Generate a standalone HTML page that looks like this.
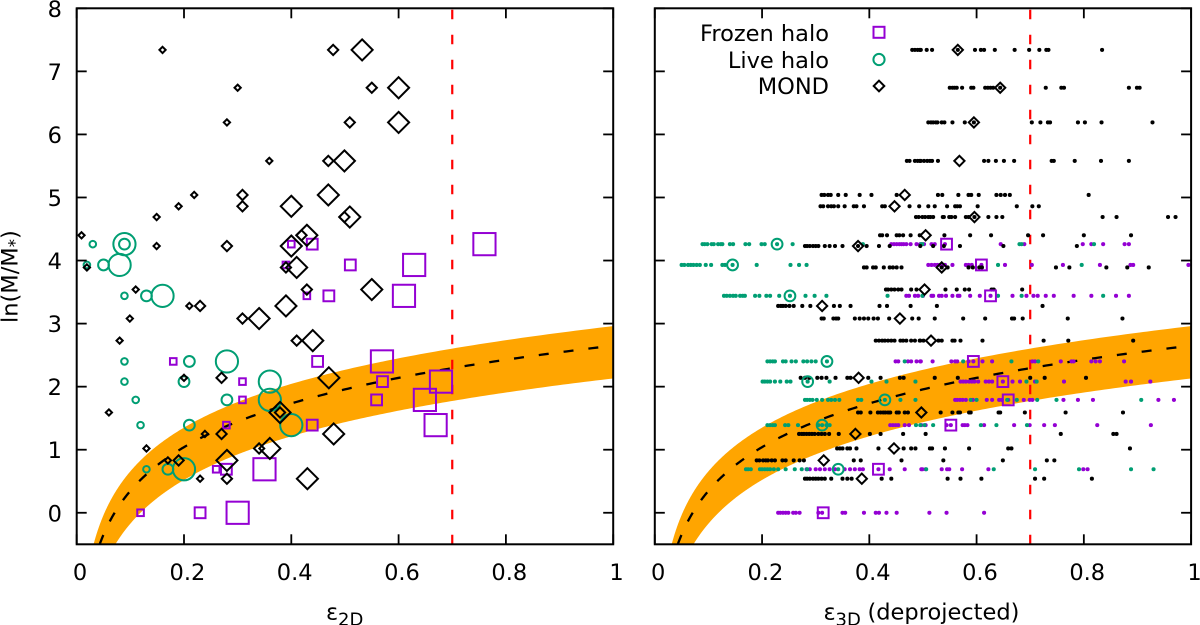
<!DOCTYPE html>
<html lang="en">
<head>
<meta charset="utf-8">
<title>Flattening vs mass ratio</title>
<style>
  html, body { margin: 0; padding: 0; background: #fff; }
  body { width: 1200px; height: 625px; overflow: hidden; }
  svg { display: block; font-family: "DejaVu Sans", "Liberation Sans", sans-serif; }
  text { fill: #000; }
</style>
</head>
<body>
<svg id="chart" width="1200" height="625" viewBox="0 0 1200 625" xmlns="http://www.w3.org/2000/svg">
  <defs>
    <clipPath id="clip-left"><rect x="76.7" y="8.3" width="536.5" height="536"/></clipPath>
    <clipPath id="clip-right"><rect x="654.8" y="8.3" width="536.3" height="536"/></clipPath>
  </defs>
  <g id="left-panel"></g>
  <g id="right-panel"></g>
  <g id="y-labels"></g>
  <g id="x-labels"></g>

  <text transform="translate(17.5,323) rotate(-90)" font-size="22.5">ln(M/M<tspan font-size="16.5" dy="3">*</tspan><tspan dy="-3">)</tspan></text>
  <text x="326" y="619.5" font-size="22.5">ε<tspan font-size="18" dy="6" x="338">2D</tspan></text>
  <text x="823.5" y="619.5" font-size="22.5">ε<tspan font-size="18" dy="6" x="835.5">3D</tspan><tspan dy="-6" x="867.5">(deprojected)</tspan></text>

  <g>
    <text x="829" y="41" text-anchor="end" font-size="22.5">Frozen halo</text>
    <text x="829" y="68" text-anchor="end" font-size="22.5">Live halo</text>
    <text x="829" y="94" text-anchor="end" font-size="22.5">MOND</text>
    <rect x="873.5" y="26.8" width="11" height="11" fill="none" stroke="#9400d3" stroke-width="2"/>
    <circle cx="879" cy="59.5" r="5.6" fill="none" stroke="#009e73" stroke-width="2"/>
    <path d="M879 80.7 L884.3 86 L879 91.3 L873.7 86 Z" fill="none" stroke="#000" stroke-width="2"/>
  </g>
</svg>

<script>
// Axis tick labels
const xTicks = [0, 0.2, 0.4, 0.6, 0.8, 1];
const yTicks = [0, 1, 2, 3, 4, 5, 6, 7, 8];
const xTickLabels = ["0", "0.2", "0.4", "0.6", "0.8", "1"];
const yTickLabels = ["0", "1", "2", "3", "4", "5", "6", "7", "8"];

// Fit curve: y = ln(eps) + offset
const fitOffset = 2.65;
const bandUpperOffset = 2.96;
const bandLowerOffset = 2.13;
const criticalEps = 0.7;

// 2D panel: [ln(M/M*), eps small-R, eps mid-R, eps large-R]
const frozen2D = [
  [4.26, .40, .439, .76], [3.93, .39, .51, .629], [3.44, .429, .47, .61],
  [2.40, .18, .449, .569], [2.08, .309, .57, .679], [1.79, .309, .559, .649],
  [1.39, .279, .439, .669], [0.69, .26, .279, .35], [0, .119, .23, .30]
];
const live2D = [
  [4.26, .03, .089, .089], [3.93, .019, .05, .08], [3.44, .089, .13, .16],
  [2.40, .089, .21, .28], [2.08, .089, .20, .36], [1.79, .11, .28, .36],
  [1.39, .119, .21, .40], [0.69, .13, .17, .20]
];
const mond2D = [
  [7.34, .16, .478, .532], [6.74, .30, .55, .60], [6.19, .28, .509, .60],
  [5.58, .359, .469, .499], [5.04, .219, .309, .469], [4.86, .19, .309, .40],
  [4.69, .149, .499, .509], [4.40, .009, .419, .429], [4.23, .149, .28, .40],
  [3.89, .019, .39, .41], [3.54, .11, .429, .55], [3.28, .21, .23, .39],
  [3.08, .099, .309, .34], [2.73, .08, .41, .44], [2.14, .20, .27, .47],
  [1.59, .06, .379, .379], [1.25, .239, .27, .479], [1.02, .13, .34, .36],
  [0.83, .17, .19, .28], [0.54, .23, .28, .43]
];

// 3D panel mean markers: ln(M/M*) levels and mean eps
const frozenLevels = [4.26, 3.93, 3.44, 2.40, 2.08, 1.79, 1.39, 0.69, 0];
const frozenMeans = [.544, .609, .626, .594, .649, .659, .552, .417, .314];
const liveLevels = [4.26, 3.93, 3.44, 2.40, 2.08, 1.79, 1.39, 0.69];
const liveMeans = [.228, .145, .252, .321, .285, .429, .312, .342];
const mondLevels = [7.34, 6.74, 6.19, 5.58, 5.04, 4.86, 4.69, 4.40, 4.23, 3.89, 3.54, 3.28, 3.08, 2.73, 2.14, 1.59, 1.25, 1.02, 0.83, 0.54];
const mondMeans = [.565, .644, .595, .568, .466, .447, .596, .505, .379, .535, .503, .312, .457, .515, .380, .497, .374, .446, .315, .386];

// 3D panel samples, one row per level, same order as the level arrays
const frozenSamples = [
  [.441,.446,.451,.456,.460,.464,.469,.477,.488,.495,.502,.516,.522,.541,.645,.689,.798,.814,.836,.876,.884],
  [.510,.516,.522,.527,.532,.537,.541,.555,.580,.585,.591,.609,.653,.703,.761,.830,.887,.892,.995],
  [.469,.474,.485,.491,.500,.516,.519,.530,.535,.543,.555,.565,.568,.588,.606,.626,.667,.693,.706,.714,.729,.744,.781,.814,.860,.884],
  [.449,.454,.472,.478,.488,.495,.496,.518,.553,.560,.564,.585,.594,.611,.629,.704,.709,.757,.777,.781,.814,.822,.830,.875],
  [.570,.575,.580,.586,.591,.596,.603,.617,.623,.629,.649,.667,.681,.709,.763,.878,.888,.924],
  [.560,.564,.569,.574,.580,.593,.619,.629,.642,.647,.659,.688,.699,.704,.762,.789,.817,.939,.968],
  [.439,.444,.449,.454,.466,.474,.497,.505,.544,.552,.574,.578,.583,.614,.670,.699,.726,.746,.825,.925],
  [.283,.289,.300,.308,.317,.326,.336,.354,.364,.373,.382,.388,.417,.438,.466,.497,.505,.499,.535,.545,.549,.573,.622,.799,.807],
  [.230,.234,.239,.244,.249,.258,.263,.270,.305,.312,.350,.355,.390,.412,.418,.432,.451,.512,.544,.614]
];
const liveSamples = [
  [.089,.093,.098,.106,.110,.118,.123,.126,.140,.146,.169,.176,.199,.205,.228,.257,.388,.497,.499,.680,.684,.819],
  [.050,.055,.062,.067,.072,.078,.084,.095,.105,.126,.131,.145,.190,.253,.269,.283,.640,.796],
  [.129,.134,.140,.146,.151,.159,.164,.168,.187,.195,.208,.215,.232,.252,.281,.298,.320,.434,.499,.640,.684,.836],
  [.210,.215,.220,.224,.239,.244,.255,.263,.277,.284,.292,.300,.321,.466,.575,.665,.715],
  [.201,.205,.210,.215,.224,.234,.246,.253,.285,.326,.404,.432,.486,.693,.712],
  [.280,.284,.289,.294,.302,.312,.323,.329,.336,.344,.379,.385,.429,.458,.486,.589,.600,.657,.675,.713,.749,.907],
  [.210,.215,.220,.224,.243,.249,.267,.305,.312,.320,.326,.487,.495,.503,.519,.608,.637,.694],
  [.170,.174,.179,.196,.200,.205,.210,.215,.222,.230,.244,.261,.274,.284,.342,.506,.632,.709,.791,.888,.930]
];
const mondSamples = [
  [.480,.485,.490,.494,.496,.507,.517,.565,.597,.608,.614,.634,.671,.698,.717,.730,.734,.834],
  [.550,.555,.559,.563,.573,.590,.594,.616,.621,.626,.631,.644,.729,.758,.763,.884,.899,.904],
  [.510,.515,.519,.524,.527,.535,.540,.555,.578,.595,.703,.719,.733,.737,.789,.802,.833,.928],
  [.470,.475,.485,.490,.494,.496,.502,.508,.513,.517,.528,.614,.622,.636,.651,.670,.740,.744,.783,.832,.884],
  [.311,.316,.323,.328,.342,.356,.382,.404,.451,.528,.536,.566,.585,.590,.604,.637,.645,.653,.662,.809],
  [.309,.314,.323,.329,.334,.342,.354,.371,.376,.390,.424,.429,.475,.493,.510,.522,.545,.560,.564,.569,.602,.675,.704,.716],
  [.487,.492,.499,.504,.510,.514,.519,.537,.539,.549,.553,.560,.580,.585,.596,.622,.637,.648,.835,.861,.957,.971],
  [.420,.424,.433,.451,.456,.463,.477,.494,.540,.588,.627,.696,.724,.800,.888],
  [.280,.284,.289,.295,.300,.305,.317,.326,.336,.350,.379,.395,.418,.438,.495,.519,.539,.569,.650,.787],
  [.390,.395,.407,.412,.427,.438,.444,.451,.460,.535,.546,.585,.593,.605,.610,.748,.773,.842,.881,.921],
  [.431,.435,.441,.447,.454,.460,.478,.488,.542,.563,.578,.586,.628,.632,.685],
  [.230,.235,.239,.244,.251,.259,.275,.290,.334,.345,.365,.419,.433,.477,.526,.723],
  [.311,.315,.333,.338,.342,.373,.382,.390,.398,.408,.416,.437,.480,.492,.522,.575,.616,.666,.670,.686,.770,.872],
  [.412,.418,.424,.429,.435,.441,.447,.458,.463,.469,.478,.485,.494,.495,.501,.529,.535,.555,.559,.570,.611,.725,.771,.892],
  [.272,.280,.288,.303,.311,.320,.337,.359,.365,.398,.421,.457,.464,.522,.565,.700,.727,.804],
  [.379,.384,.402,.416,.421,.426,.430,.435,.439,.451,.455,.466,.472,.533,.555,.566,.569,.586,.589,.641,.644,.690,.766,.873],
  [.269,.274,.278,.283,.288,.293,.298,.305,.311,.317,.325,.343,.401,.421,.463,.505,.757,.855,.861],
  [.340,.345,.350,.359,.364,.376,.417,.464,.478,.486,.513,.517,.541,.586,.659,.665,.886],
  [.190,.195,.202,.207,.211,.218,.224,.238,.244,.259,.270,.278,.371,.384,.460,.538,.649,.731,.745],
  [.280,.284,.289,.295,.300,.305,.311,.317,.329,.350,.359,.367,.423,.441,.546,.570,.609,.709,.726,.815]
];

const NS = "http://www.w3.org/2000/svg";
const COLOR_FROZEN = "#9400d3";
const COLOR_LIVE = "#009e73";
const COLOR_MOND = "#000000";
const plotTop = 8.3;
const plotBottom = 544.3;
const yMin = -0.5;
const yMax = 8;
const markerHalf = [3.3, 5.4, 11.1];
const meanHalf = 5.4;
const markerStroke = 2;

function scaleY(v) {
  return plotBottom - (v - yMin) / (yMax - yMin) * (plotBottom - plotTop);
}
function makeScaleX(x0, width) {
  return function (eps) { return x0 + eps * width; };
}
function svgEl(parent, tag) {
  const el = document.createElementNS(NS, tag);
  parent.appendChild(el);
  return el;
}
function setAll(el, attrs) {
  for (const k in attrs) el.setAttribute(k, attrs[k]);
}
function drawSquare(parent, cx, cy, h, name) {
  const el = svgEl(parent, "rect");
  
  
  setAll(el, { x: cx - h, y: cy - h, width: 2 * h, height: 2 * h, fill: "none", stroke: COLOR_FROZEN, "stroke-width": markerStroke });
}
function drawCircle(parent, cx, cy, h, name) {
  const el = svgEl(parent, "circle");
  
  
  setAll(el, { cx: cx, cy: cy, r: h, fill: "none", stroke: COLOR_LIVE, "stroke-width": markerStroke });
}
function drawDiamond(parent, cx, cy, half, name) {
  const h = half * 0.95;
  const el = svgEl(parent, "path");
  
  
  setAll(el, {
    d: "M" + cx + " " + (cy - h) + " L" + (cx + h) + " " + cy + " L" + cx + " " + (cy + h) + " L" + (cx - h) + " " + cy + " Z",
    fill: "none", stroke: COLOR_MOND, "stroke-width": markerStroke
  });
}
function logCurvePoints(offset, sx) {
  const start = Math.exp(yMin - offset);
  const steps = 240;
  const pts = [];
  for (let i = 0; i <= steps; i++) {
    const eps = start * Math.pow(1 / start, i / steps);
    pts.push([sx(eps), scaleY(Math.log(eps) + offset)]);
  }
  return pts;
}
function toPath(pts) {
  return pts.map(function (p, i) { return (i ? "L" : "M") + p[0].toFixed(2) + " " + p[1].toFixed(2); }).join(" ");
}
function drawBackground(g, sx, clipId) {
  const clipped = svgEl(g, "g");
  
  
  clipped.setAttribute("clip-path", "url(#" + clipId + ")");

  const upper = logCurvePoints(bandUpperOffset, sx);
  const lower = logCurvePoints(bandLowerOffset, sx).reverse();
  const band = svgEl(clipped, "path");
  
  
  setAll(band, { d: toPath(upper.concat(lower)) + " Z", fill: "#ffa500", stroke: "none" });

  const fit = svgEl(clipped, "path");
  
  
  setAll(fit, { d: toPath(logCurvePoints(fitOffset, sx)), fill: "none", stroke: "#000", "stroke-width": 2.3, "stroke-dasharray": "10 15" });

  const crit = svgEl(clipped, "line");
  
  
  setAll(crit, { x1: sx(criticalEps), x2: sx(criticalEps), y1: plotBottom, y2: plotTop, stroke: "#ff0000", "stroke-width": 2.2, "stroke-dasharray": "9.5 15.5" });
  return clipped;
}
function drawFrame(g, sx, x0, width) {
  const ticks = svgEl(g, "g");
  
  
  setAll(ticks, { stroke: "#000", "stroke-width": 1.8 });
  xTicks.forEach(function (t) {
    const x = sx(t);
    const a = svgEl(ticks, "line");
    
    
    setAll(a, { x1: x, x2: x, y1: plotBottom, y2: plotBottom - 10 });
    const b = svgEl(ticks, "line");
    
    
    setAll(b, { x1: x, x2: x, y1: plotTop, y2: plotTop + 10 });
  });
  yTicks.forEach(function (t) {
    const y = scaleY(t);
    const a = svgEl(ticks, "line");
    
    
    setAll(a, { x1: x0, x2: x0 + 10, y1: y, y2: y });
    const b = svgEl(ticks, "line");
    
    
    setAll(b, { x1: x0 + width, x2: x0 + width - 10, y1: y, y2: y });
  });
  const frame = svgEl(g, "rect");
  
  
  setAll(frame, { x: x0, y: plotTop, width: width, height: plotBottom - plotTop, fill: "none", stroke: "#000", "stroke-width": 2 });
}

const leftX = makeScaleX(76.7, 536.5);
const rightX = makeScaleX(654.8, 536.3);

// ----- Left panel -----
const leftG = document.getElementById("left-panel");
drawBackground(leftG, leftX, "clip-left");
const leftMarks = svgEl(leftG, "g");


frozen2D.forEach(function (row) {
  for (let i = 0; i < 3; i++) drawSquare(leftMarks, leftX(row[i + 1]), scaleY(row[0]), markerHalf[i], "frozen-halo-point");
});
live2D.forEach(function (row) {
  for (let i = 0; i < 3; i++) drawCircle(leftMarks, leftX(row[i + 1]), scaleY(row[0]), markerHalf[i], "live-halo-point");
});
mond2D.forEach(function (row) {
  for (let i = 0; i < 3; i++) drawDiamond(leftMarks, leftX(row[i + 1]), scaleY(row[0]), markerHalf[i], "mond-point");
});
drawFrame(leftG, leftX, 76.7, 536.5);

// ----- Right panel -----
const rightG = document.getElementById("right-panel");
const rightClip = drawBackground(rightG, rightX, "clip-right");
function drawDots(levels, samples, color, name) {
  levels.forEach(function (level, i) {
    samples[i].forEach(function (eps) {
      const d = svgEl(rightClip, "circle");
      
      
      setAll(d, { cx: rightX(eps), cy: scaleY(level), r: 2.05, fill: color });
    });
  });
}
drawDots(frozenLevels, frozenSamples, COLOR_FROZEN, "frozen-halo-sample");
drawDots(liveLevels, liveSamples, COLOR_LIVE, "live-halo-sample");
drawDots(mondLevels, mondSamples, COLOR_MOND, "mond-sample");
frozenLevels.forEach(function (level, i) {
  drawSquare(rightG, rightX(frozenMeans[i]), scaleY(level), meanHalf, "frozen-halo-mean");
});
liveLevels.forEach(function (level, i) {
  drawCircle(rightG, rightX(liveMeans[i]), scaleY(level), meanHalf, "live-halo-mean");
});
mondLevels.forEach(function (level, i) {
  drawDiamond(rightG, rightX(mondMeans[i]), scaleY(level), meanHalf, "mond-mean");
});
drawFrame(rightG, rightX, 654.8, 536.3);

// ----- Tick labels -----
const yLabelG = document.getElementById("y-labels");
yTicks.forEach(function (t, i) {
  const el = svgEl(yLabelG, "text");
  
  
  setAll(el, { x: 62, y: scaleY(t) + 8.5, "text-anchor": "end", "font-size": 22.5 });
  el.textContent = yTickLabels[i];
});
const xLabelG = document.getElementById("x-labels");
[leftX, rightX].forEach(function (sx) {
  xTicks.forEach(function (t, i) {
    const el = svgEl(xLabelG, "text");
    
    
    setAll(el, { x: sx(t) + 3.4, y: 580, "text-anchor": "middle", "font-size": 22.5 });
    el.textContent = xTickLabels[i];
  });
});
</script>
</body>
</html>
